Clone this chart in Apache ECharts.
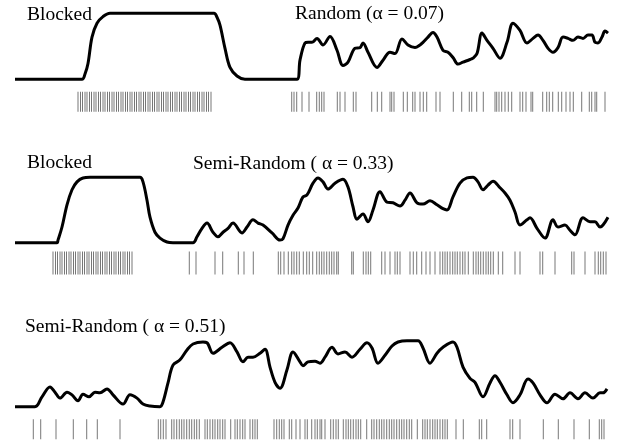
<!DOCTYPE html>
<html><head><meta charset="utf-8">
<script src="https://cdn.jsdelivr.net/npm/echarts@6/dist/echarts.min.js"></script>
<style>html,body{margin:0;padding:0;background:#fff}#c{width:621px;height:443px}</style>
</head><body><div id="c"></div><script>
// time (x) and response (0 = baseline, 1 = plateau)
const curve1 = [[15,0],[82,0],[85,0.08],[88,0.24],[92,0.64],[97,0.85],[103,0.95],[110,1],[214,1],[217,0.94],[220,0.82],[225,0.47],[230,0.18],[237,0.05],[245,0],[297,0],[300,0.29],[305,0.55],[308,0.56],[312,0.56],[317,0.62],[323,0.52],[330,0.65],[337,0.44],[343,0.21],[348,0.26],[355,0.47],[360,0.48],[363,0.55],[368,0.41],[377,0.18],[383,0.29],[390,0.41],[395,0.39],[402,0.61],[408,0.52],[415,0.48],[420,0.52],[423,0.56],[428,0.64],[433,0.71],[437,0.64],[443,0.44],[448,0.41],[453,0.33],[458,0.23],[463,0.26],[470,0.30],[473,0.32],[477,0.39],[482,0.70],[487,0.59],[493,0.47],[500,0.32],[507,0.56],[513,0.85],[520,0.74],[527,0.55],[533,0.62],[538,0.67],[543,0.59],[548,0.47],[553,0.41],[558,0.48],[563,0.64],[568,0.62],[573,0.59],[578,0.64],[583,0.62],[588,0.67],[592,0.67],[595,0.56],[598,0.55],[602,0.64],[605,0.73],[608,0.70]];
const curve2 = [[15,0],[57,0],[58,0.04],[62,0.24],[67,0.58],[72,0.81],[77,0.93],[83,0.99],[90,1],[140,1],[143,0.93],[147,0.65],[150,0.39],[155,0.16],[160,0.07],[167,0.01],[173,0],[193,0],[197,0.09],[202,0.22],[207,0.30],[213,0.16],[218,0.09],[223,0.16],[228,0.22],[233,0.30],[242,0.15],[247,0.24],[253,0.35],[258,0.30],[263,0.27],[272,0.15],[280,0.04],[283,0.06],[288,0.27],[293,0.42],[298,0.53],[303,0.70],[307,0.73],[313,0.91],[318,0.99],[323,0.93],[328,0.82],[335,0.91],[343,0.97],[348,0.85],[353,0.55],[357,0.36],[363,0.44],[368,0.32],[373,0.50],[380,0.78],[387,0.62],[393,0.61],[400,0.56],[405,0.65],[410,0.76],[417,0.61],[423,0.59],[430,0.64],[437,0.58],[443,0.52],[447,0.50],[453,0.70],[460,0.91],[467,0.99],[473,1.0],[478,0.93],[483,0.81],[488,0.88],[493,0.94],[500,0.84],[505,0.76],[510,0.65],[515,0.47],[520,0.27],[527,0.35],[530,0.38],[537,0.22],[545,0.07],[553,0.35],[558,0.24],[565,0.27],[570,0.19],[575,0.12],[583,0.38],[590,0.32],[595,0.32],[600,0.24],[603,0.27],[608,0.39]];
const curve3 = [[15,0],[35,0],[42,0.15],[50,0.30],[55,0.22],[60,0.13],[67,0.22],[72,0.18],[78,0.09],[83,0.19],[89,0.15],[95,0.22],[100,0.21],[107,0.27],[113,0.18],[123,0.04],[130,0.18],[137,0.13],[143,0.04],[150,0.01],[160,0],[163,0.07],[168,0.36],[173,0.63],[180,0.71],[187,0.86],[193,0.95],[203,0.98],[207,0.97],[213,0.81],[222,0.90],[230,0.97],[237,0.83],[243,0.68],[248,0.75],[253,0.75],[260,0.81],[265,0.87],[270,0.60],[275,0.37],[280,0.28],[287,0.56],[293,0.83],[300,0.68],[303,0.62],[308,0.68],[315,0.69],[320,0.66],[325,0.75],[332,0.90],[338,0.80],[345,0.83],[352,0.75],[360,0.87],[367,0.97],[372,0.89],[378,0.66],[385,0.78],[392,0.92],[398,0.98],[407,1.0],[418,1.0],[423,0.89],[430,0.66],[437,0.81],[443,0.90],[453,0.98],[457,0.90],[463,0.60],[470,0.43],[475,0.37],[483,0.15],[490,0.36],[495,0.47],[500,0.37],[507,0.18],[513,0.06],[520,0.18],[528,0.42],[533,0.36],[540,0.18],[547,0.06],[555,0.19],[563,0.12],[570,0.21],[578,0.12],[585,0.21],[593,0.13],[600,0.21],[603,0.21],[607,0.27]];

// spike (event) times
const spikes1 = [78,80.5,82.5,85,87,89.5,91.5,94,96,98.5,100.5,103,105,107.5,109.5,112,114,116.5,118.5,121,123,125.5,127.5,130,132,134.5,136.5,139,141,143.5,145.5,148,150,152.5,154.5,157,159,161.5,163.5,166,168,170.5,172.5,175,177,179.5,181.5,184,186,188.5,190.5,193,195,197.5,199.5,202,204,206.5,208.5,211,
 291.7,294,296.7,302,309,316.7,319.3,321.7,324,337.3,340,345,353.3,356,371.7,377.3,381.7,390,391.7,394,403.3,407.3,412.7,415,420,423.3,426.7,436,440,453.3,461.7,469.3,471.7,476.7,483.3,495,496.7,499,501.7,505,508.3,511.7,520,522.7,526,531,532.7,542.7,546.7,549.3,552.7,558.3,561.7,566,570,573.3,581.7,589.3,591.7,595,596.7,605];
const spikes2 = [53,55.5,57.5,60,62,64.5,66.5,69,71,73.5,75.5,78,80,82.5,84.5,87,89,91.5,93.5,96,98,100.5,102.5,105,107,109.5,111.5,114,116,118.5,120.5,123,125,127.5,129.5,132,
 189.3,196,215,222.7,238.3,244,253.3,278.3,280.7,284,288.3,291.7,294,296.7,299.3,303.3,306.7,309.3,312.7,316.7,319.3,321.7,324,326.7,329.3,331.7,334,336.7,338.3,351.7,353.3,363.3,366,368.3,370.7,381.7,385,390,395,397.3,400,410,413.3,416.7,421.7,426,430,435,440,442.7,445,447.3,450,452.7,455,457.3,460,462.7,465,468.3,473.3,476,478.3,480.7,483.3,486,488.3,490.7,493.3,498.3,502.7,515,520,540,542.7,555,571.7,574,585,595,598.3,600.7,603.3,606];
const spikes3 = [33.3,40.7,56,73.3,86.7,97.3,120,158.3,160.7,163.3,166,171.7,174,176.7,179.3,181.7,184,186.7,189.3,191.7,194.3,196.7,199.3,205,207.3,210,212.7,215,217.7,220,222.7,225,230.7,235,237.3,240,242.7,245,250,252.7,255,257.3,274,276.7,279.3,281.7,284,289.3,291.7,296,300,305,307.3,311.7,315,317.3,320,321.7,325,330.7,333.3,336,338.3,343.3,346,348.3,350.7,353.3,356,358.3,360.7,366.7,371.7,374,376.7,379.3,381.7,384,386.7,389.3,391.7,394,396.7,399.3,401.7,404,406.7,409.3,411.7,417.3,422.7,425,427.3,430,432.7,435,437.3,440,442.7,445,447.3,456,463.3,479.3,481.7,486.7,510,512.7,520,543.3,558.3,574,589.3,599.3,601.7,604];

const labels = [
  ['Blocked', 'Random (\u03b1 = 0.07)'],
  ['Blocked', 'Semi-Random ( \u03b1 = 0.33)'],
  ['Semi-Random ( \u03b1 = 0.51)']
];

// layout
const panels = [
  {curve: curve1, spikes: spikes1, top: 13.3, scale: 66, spikeV: -0.34, spikeH: 20, lab: [[27, 5], [295, 4]]},
  {curve: curve2, spikes: spikes2, top: 177.3, scale: 65.4, spikeV: -0.31, spikeH: 23, lab: [[27, 153], [193, 154]]},
  {curve: curve3, spikes: spikes3, top: 340.7, scale: 66, spikeV: -0.34, spikeH: 20, lab: [[25, 317]]}
];

const grid = [], xAxis = [], yAxis = [], series = [], graphic = [];
panels.forEach((p, i) => {
  grid.push({left: 15, right: 13, top: p.top, height: 1.5 * p.scale});
  xAxis.push({type: 'value', gridIndex: i, min: 15, max: 608, show: false});
  yAxis.push({type: 'value', gridIndex: i, min: -0.5, max: 1, show: false});
  series.push({type: 'line', xAxisIndex: i, yAxisIndex: i, data: p.curve, showSymbol: false, smooth: 0.35, clip: false,
    lineStyle: {color: '#000', width: 3}, animation: false});
  series.push({type: 'scatter', xAxisIndex: i, yAxisIndex: i, data: p.spikes.map(t => [t, p.spikeV]), symbol: 'rect',
    symbolSize: [1, p.spikeH], itemStyle: {color: '#555'}, animation: false});
  labels[i].forEach((txt, j) => {
    graphic.push({type: 'text', left: p.lab[j][0], top: p.lab[j][1],
      style: {text: txt, font: '19.5px "Liberation Serif"', fill: '#000'}});
  });
});

const chart = echarts.init(document.getElementById('c'), null, {renderer: 'canvas'});
chart.setOption({animation: false, backgroundColor: '#fff', grid, xAxis, yAxis, series, graphic});
</script></body></html>
